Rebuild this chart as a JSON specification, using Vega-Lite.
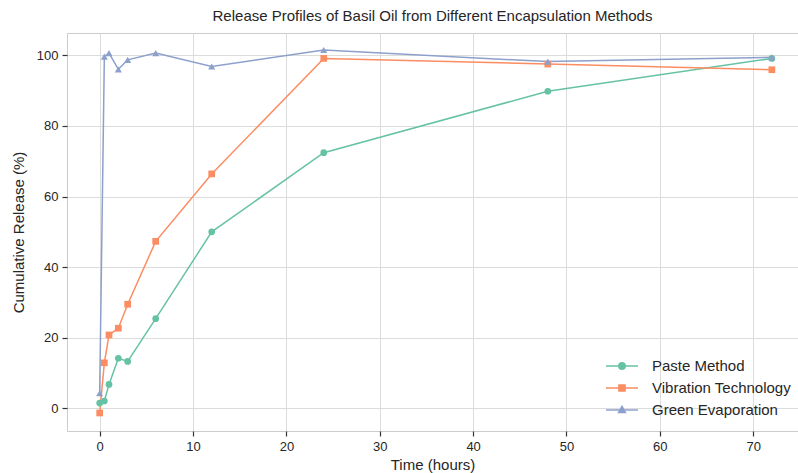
{
  "$schema": "https://vega.github.io/schema/vega-lite/v6.json",
  "autosize": {"type": "none"},
  "width": 731,
  "height": 398,
  "padding": {"left": 67, "top": 33, "right": 0, "bottom": 42},
  "background": "white",
  "config": {
    "font": "Liberation Sans",
    "view": {"stroke": "#cccccc", "strokeWidth": 1},
    "axis": {
      "grid": true, "gridColor": "#dcdcdc", "gridWidth": 1,
      "domain": false,
      "ticks": true, "tickColor": "#333333", "tickSize": 5, "tickWidth": 1.2,
      "labelFont": "Liberation Sans", "labelFontSize": 13, "labelColor": "#262626",
      "titleFont": "Liberation Sans", "titleFontSize": 15, "titleFontWeight": "normal", "titleColor": "#262626"
    }
  },
  "title": {
    "text": "Release Profiles of Basil Oil from Different Encapsulation Methods",
    "font": "Liberation Sans", "fontSize": 15, "fontWeight": "normal", "color": "#262626",
    "anchor": "middle", "offset": 9
  },
  "data": {
    "values": [
      {"time": 0, "method": "Paste Method", "release": 1.5},
      {"time": 0.5, "method": "Paste Method", "release": 2.1},
      {"time": 1, "method": "Paste Method", "release": 6.8},
      {"time": 2, "method": "Paste Method", "release": 14.2},
      {"time": 3, "method": "Paste Method", "release": 13.3},
      {"time": 6, "method": "Paste Method", "release": 25.4},
      {"time": 12, "method": "Paste Method", "release": 50.0},
      {"time": 24, "method": "Paste Method", "release": 72.4},
      {"time": 48, "method": "Paste Method", "release": 89.8},
      {"time": 72, "method": "Paste Method", "release": 99.1},
      {"time": 0, "method": "Vibration Technology", "release": -1.3},
      {"time": 0.5, "method": "Vibration Technology", "release": 12.9},
      {"time": 1, "method": "Vibration Technology", "release": 20.8},
      {"time": 2, "method": "Vibration Technology", "release": 22.7},
      {"time": 3, "method": "Vibration Technology", "release": 29.5},
      {"time": 6, "method": "Vibration Technology", "release": 47.3},
      {"time": 12, "method": "Vibration Technology", "release": 66.4},
      {"time": 24, "method": "Vibration Technology", "release": 99.1},
      {"time": 48, "method": "Vibration Technology", "release": 97.5},
      {"time": 72, "method": "Vibration Technology", "release": 95.9},
      {"time": 0, "method": "Green Evaporation", "release": 4.3},
      {"time": 0.5, "method": "Green Evaporation", "release": 99.6},
      {"time": 1, "method": "Green Evaporation", "release": 100.6},
      {"time": 2, "method": "Green Evaporation", "release": 96.0},
      {"time": 3, "method": "Green Evaporation", "release": 98.7},
      {"time": 6, "method": "Green Evaporation", "release": 100.6},
      {"time": 12, "method": "Green Evaporation", "release": 96.8},
      {"time": 24, "method": "Green Evaporation", "release": 101.5},
      {"time": 48, "method": "Green Evaporation", "release": 98.2},
      {"time": 72, "method": "Green Evaporation", "release": 99.4}
    ]
  },
  "encoding": {
    "x": {
      "field": "time", "type": "quantitative", "title": "Time (hours)",
      "scale": {"domain": [-3.5, 74.8], "nice": false, "zero": false},
      "axis": {"values": [0, 10, 20, 30, 40, 50, 60, 70], "labelPadding": 4, "titlePadding": 4}
    },
    "y": {
      "field": "release", "type": "quantitative", "title": "Cumulative Release (%)",
      "scale": {"domain": [-6.4, 106.3], "nice": false, "zero": false},
      "axis": {"values": [0, 20, 40, 60, 80, 100], "labelPadding": 4, "titlePadding": 10}
    },
    "color": {
      "field": "method", "type": "nominal",
      "scale": {"domain": ["Paste Method", "Vibration Technology", "Green Evaporation"], "range": ["#66c2a5", "#fc8d62", "#8da0cb"]},
      "legend": {
        "title": null,
        "orient": "none",
        "legendX": 546,
        "legendY": 324,
        "symbolSize": 256,
        "labelFontSize": 15,
        "labelColor": "#262626",
        "labelFont": "Liberation Sans",
        "rowPadding": 5,
        "labelOffset": 21,
        "symbolStrokeWidth": 1.5,
        "encode": {
          "symbols": {
            "update": {
              "shape": {"signal": "datum.value === 'Paste Method' ? 'M-2,0H2M-0.4,0A0.4,0.4 0 1,0 0.4,0A0.4,0.4 0 1,0 -0.4,0Z' : (datum.value === 'Vibration Technology' ? 'M-2,0H2M-0.38,-0.38H0.38V0.38H-0.38Z' : 'M-2,0H2M0,-0.45L0.42,0.3H-0.42Z')"},
              "fill": {"signal": "scale('color', datum.value)"},
              "stroke": {"signal": "scale('color', datum.value)"},
              "strokeWidth": {"value": 1.5},
              "opacity": {"value": 1}
            }
          }
        }
      }
    }
  },
  "layer": [
    {
      "mark": {"type": "line", "strokeWidth": 1.5},
      "encoding": {}
    },
    {
      "transform": [{"filter": "datum.method === 'Paste Method'"}],
      "mark": {"type": "point", "filled": true, "opacity": 1, "size": 45, "shape": "circle"},
      "encoding": {}
    },
    {
      "transform": [{"filter": "datum.method === 'Vibration Technology'"}],
      "mark": {"type": "point", "filled": true, "opacity": 1, "size": 45, "shape": "square"},
      "encoding": {}
    },
    {
      "transform": [{"filter": "datum.method === 'Green Evaporation'"}],
      "mark": {"type": "point", "filled": true, "opacity": 1, "size": 50, "shape": "triangle-up"},
      "encoding": {}
    }
  ]
}
